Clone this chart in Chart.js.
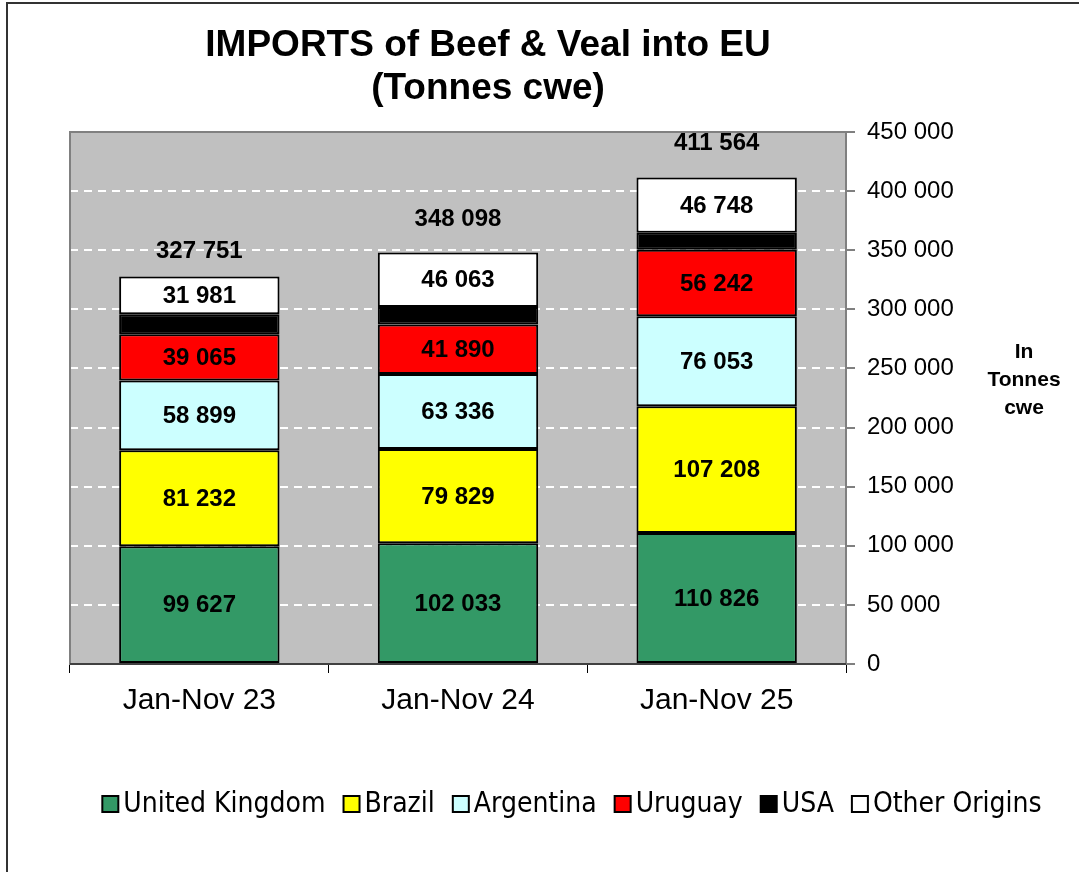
<!DOCTYPE html>
<html>
<head>
<meta charset="utf-8">
<script src="https://cdn.jsdelivr.net/npm/chart.js@4/dist/chart.umd.min.js"></script>
<style>
  html, body { margin: 0; padding: 0; background: #fff; }
  #wrap { width: 1079px; height: 872px; position: relative; }
</style>
</head>
<body>
<div id="wrap"><canvas id="chart" width="1079" height="872"></canvas></div>
<script>
// ===================
// Chart data
// ===================
const periods = ['Jan-Nov 23', 'Jan-Nov 24', 'Jan-Nov 25'];
const ukValues = [99627, 102033, 110826];
const brazilValues = [81232, 79829, 107208];
const argentinaValues = [58899, 63336, 76053];
const uruguayValues = [39065, 41890, 56242];
const usaValues = [16947, 14917, 14487];
const otherValues = [31981, 46063, 46748];
const totals = [327751, 348098, 411564];

const titleLines = ['IMPORTS of Beef & Veal into EU', '(Tonnes cwe)'];
const unitLines = ['In', 'Tonnes', 'cwe'];

const fmt = v => String(v).replace(/\B(?=(\d{3})+(?!\d))/g, ' ');
const FONT = "'Liberation Sans', Arial, sans-serif";
const LEGEND_FONT = "'Liberation Sans Narrow', 'DejaVu Sans Condensed', 'Open Sans', sans-serif";

// ===================
// Plugins
// ===================
const plotBackground = {
  id: 'plotBackground',
  beforeDraw(chart) {
    const { ctx, chartArea: a } = chart;
    ctx.save();
    // outer frame
    ctx.strokeStyle = '#333';
    ctx.lineWidth = 2;
    ctx.strokeRect(7, 3, 1100, 900);
    ctx.fillStyle = '#c0c0c0';
    ctx.fillRect(a.left, a.top, a.right - a.left, a.bottom - a.top);
    ctx.restore();
  },
  beforeDatasetsDraw(chart) {
    const { ctx, chartArea: a } = chart;
    ctx.save();
    ctx.strokeStyle = '#808080';
    ctx.lineWidth = 2;
    ctx.strokeRect(a.left, a.top, a.right - a.left, a.bottom - a.top);
    ctx.strokeStyle = '#000';
    ctx.lineWidth = 1;
    ctx.beginPath();
    ctx.moveTo(a.left, a.bottom);
    ctx.lineTo(a.right, a.bottom);
    ctx.stroke();
    ctx.restore();
  }
};

const textPlugin = {
  id: 'textPlugin',
  afterDraw(chart) {
    const { ctx } = chart;
    ctx.save();
    ctx.fillStyle = '#000';
    ctx.textAlign = 'center';
    ctx.textBaseline = 'middle';

    // title
    ctx.font = 'bold 37px ' + FONT;
    ctx.fillText(titleLines[0], 488, 46);
    ctx.fillText(titleLines[1], 488, 89);

    // unit note on the right
    ctx.font = 'bold 21px ' + FONT;
    unitLines.forEach((t, i) => ctx.fillText(t, 1024, 352 + i * 28));

    // segment labels
    ctx.font = 'bold 24px ' + FONT;
    chart.data.datasets.forEach((ds, di) => {
      if (ds.label === 'USA') return;
      chart.getDatasetMeta(di).data.forEach((bar, i) => {
        const y = (bar.y + bar.base) / 2;
        ctx.fillText(fmt(ds.data[i]), bar.x, y + 1);
      });
    });

    // totals above the stacks
    const yScale = chart.scales.y;
    const topMeta = chart.getDatasetMeta(chart.data.datasets.length - 1);
    const gaps = [25, 33, 34];
    topMeta.data.forEach((bar, i) => {
      ctx.fillText(fmt(totals[i]), bar.x, yScale.getPixelForValue(totals[i]) - gaps[i]);
    });

    // legend
    ctx.font = '28px ' + LEGEND_FONT;
    ctx.textAlign = 'left';
    const box = 16, boxGap = 5, itemGap = 18;
    const items = chart.data.datasets.map(ds => ({ label: ds.label, color: ds.backgroundColor, w: ctx.measureText(ds.label).width }));
    const totalW = items.reduce((s, it) => s + box + boxGap + it.w, 0) + itemGap * (items.length - 1);
    let x = 572 - totalW / 2;
    const ly = 804;
    items.forEach(it => {
      ctx.fillStyle = it.color;
      ctx.fillRect(x, ly - box / 2, box, box);
      ctx.strokeStyle = '#000';
      ctx.lineWidth = 2;
      ctx.strokeRect(x, ly - box / 2, box, box);
      ctx.fillStyle = '#000';
      ctx.fillText(it.label, x + box + boxGap, ly + 1);
      x += box + boxGap + it.w + itemGap;
    });
    ctx.restore();
  }
};

// ===================
// Build chart
// ===================
const mk = (label, data, color) => ({
  label, data,
  backgroundColor: color,
  borderColor: '#000',
  borderWidth: 2,
  borderSkipped: false,
  barPercentage: 0.62,
  categoryPercentage: 1
});

new Chart(document.getElementById('chart'), {
  type: 'bar',
  data: {
    labels: periods,
    datasets: [
      mk('United Kingdom', ukValues, '#339966'),
      mk('Brazil', brazilValues, '#ffff00'),
      mk('Argentina', argentinaValues, '#ccffff'),
      mk('Uruguay', uruguayValues, '#ff0000'),
      mk('USA', usaValues, '#000000'),
      mk('Other Origins', otherValues, '#ffffff')
    ]
  },
  options: {
    responsive: false,
    animation: false,
    layout: { padding: { left: 70, top: 132, right: 0, bottom: 88 } },
    plugins: {
      title: { display: false },
      tooltip: { enabled: false },
      legend: { display: false }
    },
    scales: {
      x: {
        stacked: true,
        grid: { offset: true, drawOnChartArea: false, drawTicks: true, tickLength: 9, tickColor: '#000', color: '#000' },
        border: { display: false },
        ticks: { color: '#000', font: { family: FONT, size: 30 }, padding: 10 },
        afterFit: s => { s.height = 120; }
      },
      y: {
        stacked: true,
        position: 'right',
        min: 0,
        max: 450000,
        grid: { color: '#fff', lineWidth: 2, tickLength: 9, tickColor: '#000', tickWidth: 1, tickBorderDash: [] },
        border: { display: false, dash: [8, 6] },
        ticks: { stepSize: 50000, color: '#000', font: { family: FONT, size: 24 }, padding: 12, callback: v => fmt(v) },
        afterFit: s => { s.width = 233; }
      }
    }
  },
  plugins: [plotBackground, textPlugin]
});
</script>
</body>
</html>
